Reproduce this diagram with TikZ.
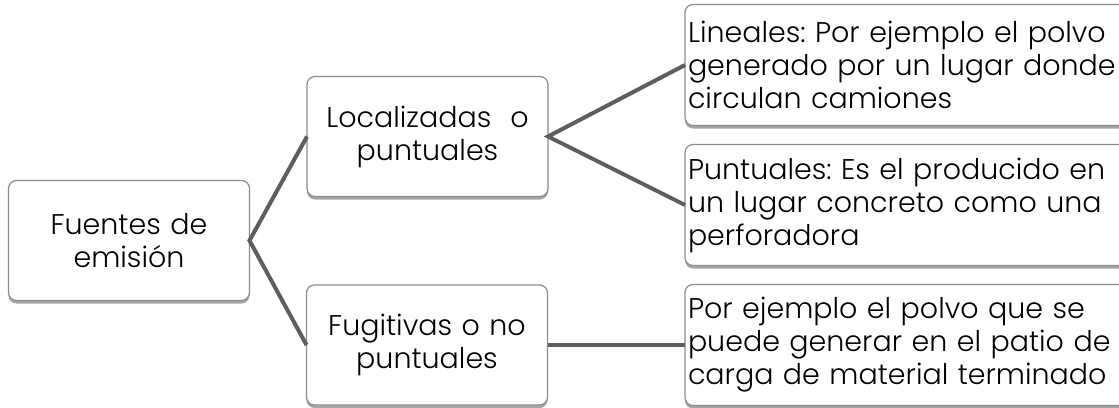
\documentclass[tikz,border=0pt]{standalone}
\usepackage{fontspec}
\setmainfont{Poppins}[UprightFont=* Light]
\usetikzlibrary{shadows}
\definecolor{linegray}{HTML}{5E5E5E}
\definecolor{boxgray}{HTML}{8C8C8C}
\tikzset{
  box/.style={draw=boxgray, line width=1.2pt, fill=white, rounded corners=8pt,
    drop shadow={shadow xshift=0pt, shadow yshift=-3pt, opacity=0.35, fill=black},
    font=\fontsize{28.5}{33}\selectfont\frenchspacing, inner sep=3pt, outer sep=0pt},
  cbox/.style={box, align=center, minimum width=241pt, minimum height=120pt, text width=232pt},
  lbox/.style={box, align=left, minimum height=121pt, text width=439pt, inner xsep=3pt},
  conn/.style={draw=linegray, line width=4pt}
}
\begin{document}
\begin{tikzpicture}[x=1pt,y=-1pt]
\useasboundingbox (0,0) rectangle (1119,407);
\clip (0,0) rectangle (1119,407);
\node[cbox] (root) at (129,240.5) {Fuentes de\\emisión};
\node[cbox] (loc) at (427.5,136.5) {Localizadas\ \ o\\puntuales};
\node[cbox] (fug) at (427,345) {Fugitivas o no\\puntuales};
\node[lbox, anchor=west] (lin) at (685,65) {Lineales: Por ejemplo el polvo\\generado por un lugar donde\\circulan camiones};
\node[lbox, anchor=west] (pun) at (685,205) {Puntuales: Es el producido en\\un lugar concreto como una\\perforadora};
\node[lbox, anchor=west] (por) at (685,345) {Por ejemplo el polvo que se\\puede generar en el patio de\\carga de material terminado};
\draw[conn] (loc.west) -- (root.east) -- (fug.west);
\draw[conn] (lin.west) -- (loc.east) -- (pun.west);
\draw[conn] (fug.east) -- (por.west);
\end{tikzpicture}
\end{document}
